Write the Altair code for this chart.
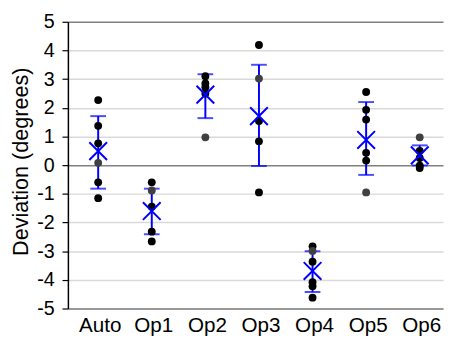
import altair as alt
import pandas as pd

categories = ["Auto", "Op1", "Op2", "Op3", "Op4", "Op5", "Op6"]

# black points per category
black_pts = {
    "Auto": [2.27, 1.37, 0.76, -0.6, -1.15],
    "Op1": [-0.6, -1.45, -2.32, -2.66],
    "Op2": [3.1, 2.85, 2.72, 2.5],
    "Op3": [4.19, 1.54, 0.83, -0.95],
    "Op4": [-2.83, -3.37, -4.08, -4.22, -4.62],
    "Op5": [2.55, 1.93, 1.59, 0.43, 0.16],
    "Op6": [0.5, 0.25, -0.02, -0.1],
}
# dark gray points per category
gray_pts = [0.08, -0.88, 0.97, 3.02, -2.99, -0.95, 0.97]

means = [0.49, -1.6, 2.46, 1.71, -3.69, 0.88, 0.34]
err_low = [-0.82, -2.41, 1.64, -0.03, -4.42, -0.34, -0.01]
err_high = [1.71, -0.82, 3.17, 3.5, -3.0, 2.2, 0.69]

y_ticks = list(range(-5, 6))

rows = []
for c in categories:
    for v in black_pts[c]:
        rows.append({"cat": c, "value": v, "kind": "black"})
for c, v in zip(categories, gray_pts):
    rows.append({"cat": c, "value": v, "kind": "gray"})
df_pts = pd.DataFrame(rows)

df_stats = pd.DataFrame({"cat": categories, "mean": means, "lo": err_low, "hi": err_high})
df_labels = pd.DataFrame({"cat": categories})

FONT = "Liberation Sans"

xscale = alt.Scale(type="point", domain=categories, paddingOuter=0.882, align=0.565)
yscale = alt.Scale(domain=[-5, 5], nice=False)

xenc = alt.X("cat:N", scale=xscale, sort=categories,
             axis=alt.Axis(title=None, labels=False, ticks=False,
                           domainColor="#808080", domainWidth=1.5, grid=False))

yaxis = alt.Axis(
    title="Deviation (degrees)", values=y_ticks, tickCount=len(y_ticks),
    labelExpr="datum.value + ''", labelOverlap=False,
    labelFontSize=20, labelColor="black", labelFont=FONT, labelPadding=8,
    tickSize=6, tickColor="black", tickWidth=1.2,
    domainColor="black", domainWidth=1.5,
    gridColor=alt.condition("datum.value == 0 || datum.value == 5",
                            alt.value("#808080"), alt.value("#d9d9d9")),
    gridWidth=1.5,
    titleFontSize=22, titleFont=FONT, titleFontWeight="normal", titleColor="black",
    titleAngle=270, titleX=-41, titleY=142, titleBaseline="alphabetic", titleAlign="center",
)

bars = alt.Chart(df_stats).mark_rule(color="#0000ff", strokeWidth=2).encode(
    x=xenc,
    y=alt.Y("lo:Q", scale=yscale, axis=yaxis),
    y2="hi:Q",
)
caps_lo = alt.Chart(df_stats).mark_tick(color="#0000ff", size=16, thickness=2).encode(
    x=alt.X("cat:N", scale=xscale, sort=categories), y=alt.Y("lo:Q", scale=yscale))
caps_hi = alt.Chart(df_stats).mark_tick(color="#0000ff", size=16, thickness=2).encode(
    x=alt.X("cat:N", scale=xscale, sort=categories), y=alt.Y("hi:Q", scale=yscale))

dots = alt.Chart(df_pts).mark_circle(size=64, opacity=1).encode(
    x=alt.X("cat:N", scale=xscale, sort=categories),
    y=alt.Y("value:Q", scale=yscale),
    color=alt.Color("kind:N", scale=alt.Scale(domain=["black", "gray"],
                                              range=["#000000", "#404040"]), legend=None),
)

xmark = alt.Chart(df_stats).mark_point(
    shape="M-1,-1L1,1M1,-1L-1,1", filled=False, size=324, strokeWidth=2,
    color="#0000ff", opacity=1).encode(
    x=alt.X("cat:N", scale=xscale, sort=categories),
    y=alt.Y("mean:Q", scale=yscale),
)

data_layers = alt.layer(bars, caps_lo, caps_hi, dots, xmark)

# category labels (own spacing, as in the reference's axis)
label_scale = alt.Scale(type="point", domain=categories, paddingOuter=0.659, align=0.603)
labels = alt.Chart(df_labels).mark_text(
    font=FONT, fontSize=21, color="black", baseline="alphabetic", align="center", dy=24
).encode(
    x=alt.X("cat:N", scale=label_scale, sort=categories, axis=None),
    y=alt.value(292),
    text="cat:N",
)

chart = alt.layer(data_layers, labels).resolve_scale(x="independent").properties(
    width=382, height=292,
    autosize=alt.AutoSizeParams(type="none"),
    padding={"left": 61, "top": 11, "right": 2, "bottom": 28},
    background="white",
).configure_view(stroke=None)

chart.save("out.html", embed_options={"renderer": "svg", "actions": False})
